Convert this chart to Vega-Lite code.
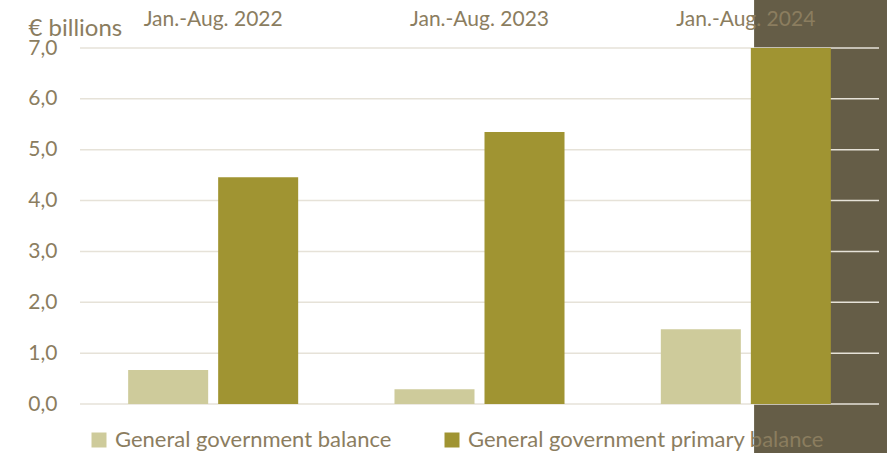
{
  "$schema": "https://vega.github.io/schema/vega-lite/v6.json",
  "width": 799,
  "height": 356,
  "autosize": {"type": "none"},
  "padding": {"left": 80, "top": 48, "right": 8, "bottom": 49},
  "background": "white",
  "config": {"view": {"stroke": null}, "font": "Lato"},
  "datasets": {
    "bars": [
      {"period": "Jan.-Aug. 2022", "series": "General government balance", "value": 0.67},
      {"period": "Jan.-Aug. 2022", "series": "General government primary balance", "value": 4.46},
      {"period": "Jan.-Aug. 2023", "series": "General government balance", "value": 0.29},
      {"period": "Jan.-Aug. 2023", "series": "General government primary balance", "value": 5.35},
      {"period": "Jan.-Aug. 2024", "series": "General government balance", "value": 1.47},
      {"period": "Jan.-Aug. 2024", "series": "General government primary balance", "value": 7.0}
    ],
    "grid": [{"v": 0}, {"v": 1}, {"v": 2}, {"v": 3}, {"v": 4}, {"v": 5}, {"v": 6}, {"v": 7}],
    "highlight": [{"x0": 2.531, "x1": 3.03, "y0": -0.963, "y1": 7.944}]
  },
  "layer": [
    {
      "data": {"name": "highlight"},
      "mark": {"type": "rect", "color": "#655D47", "clip": false},
      "encoding": {
        "x": {"field": "x0", "type": "quantitative", "scale": {"domain": [0, 3], "nice": false, "zero": false}, "axis": null},
        "x2": {"field": "x1"},
        "y": {"field": "y0", "type": "quantitative", "scale": {"domain": [0, 7], "nice": false}},
        "y2": {"field": "y1"}
      }
    },
    {
      "data": {"name": "grid"},
      "mark": {"type": "rule", "color": "#E6E2D8", "strokeWidth": 1.5},
      "encoding": {
        "y": {"field": "v", "type": "quantitative"}
      }
    },
    {
      "data": {"name": "bars"},
      "mark": {"type": "bar"},
      "encoding": {
        "x": {
          "field": "period", "type": "nominal",
          "scale": {"paddingInner": 0, "paddingOuter": 0},
          "axis": {"orient": "top", "title": null, "domain": false, "ticks": false, "grid": false, "labelAngle": 0, "labelFontSize": 21, "labelColor": "#8B7D5F", "labelPadding": 19, "zindex": 1}
        },
        "xOffset": {"field": "series", "type": "nominal", "scale": {"paddingInner": 0.111, "paddingOuter": 0.535}},
        "y": {
          "field": "value", "type": "quantitative",
          "axis": {
            "values": [0, 1, 2, 3, 4, 5, 6, 7],
            "labelExpr": "replace(format(datum.value, '.1f'), '.', ',')",
            "grid": false, "domain": false, "ticks": false,
            "labelFontSize": 21, "labelColor": "#8B7D5F", "labelPadding": 23,
            "title": "€ billions", "titleAngle": 0, "titleAlign": "left", "titleBaseline": "middle",
            "titleX": -52, "titleY": -20, "titleFontSize": 24, "titleFontWeight": "normal", "titleColor": "#8B7D5F"
          }
        },
        "color": {
          "field": "series", "type": "nominal",
          "scale": {"domain": ["General government balance", "General government primary balance"], "range": ["#CECB9B", "#A09432"]},
          "legend": {
            "title": null, "orient": "none", "direction": "horizontal", "legendX": 8, "legendY": 381,
            "symbolType": "square", "symbolSize": 225, "symbolStrokeWidth": 0, "symbolOpacity": 1,
            "labelFontSize": 22, "labelColor": "#8B7D5F", "labelOffset": 5, "labelLimit": 500, "columnPadding": 49, "padding": 0, "zindex": 1
          }
        }
      }
    }
  ],
  "resolve": {"scale": {"x": "independent"}}
}
